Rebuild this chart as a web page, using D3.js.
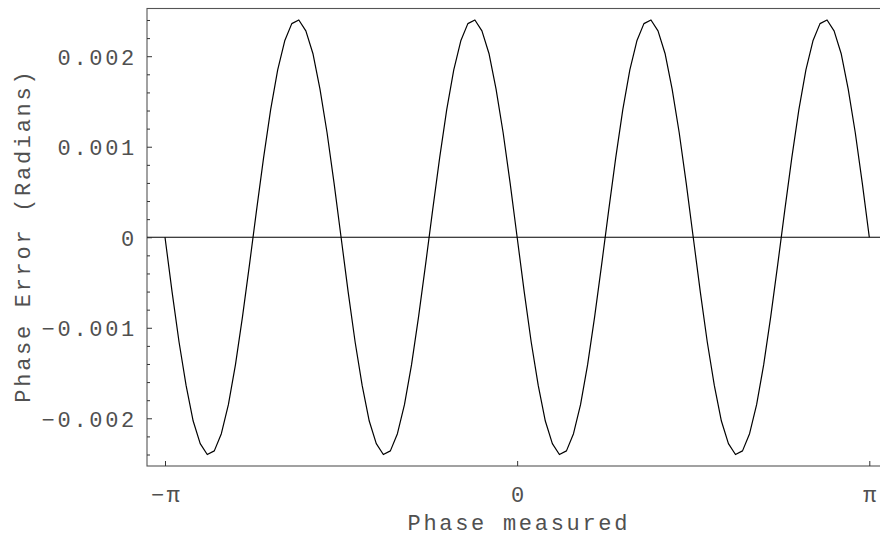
<!DOCTYPE html>
<html>
<head>
<meta charset="utf-8">
<script src="https://cdn.jsdelivr.net/npm/d3@7"></script>
<style>
  body { margin: 0; background: #fff; }
  svg text { font-family: "Liberation Mono", "DejaVu Sans Mono", monospace; fill: #505050; }
</style>
</head>
<body>
<svg id="chart" width="880" height="537"></svg>
<script>
// phase error, 101 samples evenly spaced over [-pi, pi]
var errorValues = [
    0, -0.00060, -0.00116, -0.00164, -0.00203, -0.00228, -0.00240, -0.00236, -0.00217, -0.00185, -0.00141, -0.00088, -0.00030,
    0.00030, 0.00088, 0.00141, 0.00185, 0.00217, 0.00236, 0.00240, 0.00228, 0.00203, 0.00164, 0.00116, 0.00060,
    0, -0.00060, -0.00116, -0.00164, -0.00203, -0.00228, -0.00240, -0.00236, -0.00217, -0.00185, -0.00141, -0.00088, -0.00030,
    0.00030, 0.00088, 0.00141, 0.00185, 0.00217, 0.00236, 0.00240, 0.00228, 0.00203, 0.00164, 0.00116, 0.00060,
    0, -0.00060, -0.00116, -0.00164, -0.00203, -0.00228, -0.00240, -0.00236, -0.00217, -0.00185, -0.00141, -0.00088, -0.00030,
    0.00030, 0.00088, 0.00141, 0.00185, 0.00217, 0.00236, 0.00240, 0.00228, 0.00203, 0.00164, 0.00116, 0.00060,
    0, -0.00060, -0.00116, -0.00164, -0.00203, -0.00228, -0.00240, -0.00236, -0.00217, -0.00185, -0.00141, -0.00088, -0.00030,
    0.00030, 0.00088, 0.00141, 0.00185, 0.00217, 0.00236, 0.00240, 0.00228, 0.00203, 0.00164, 0.00116, 0.00060,
    0
];
var phaseRange = [-Math.PI, Math.PI];

var xTickValues = [-Math.PI, 0, Math.PI];
var xTickLabels = ["\u2212\u03c0", "0", "\u03c0"];
var yTickValues = [-0.002, -0.001, 0, 0.001, 0.002];
var yTickLabels = ["\u22120.002", "\u22120.001", "0", "0.001", "0.002"];
var yMinorTicks = [-0.0024, -0.0022, -0.0018, -0.0016, -0.0014, -0.0012, -0.0008, -0.0006, -0.0004, -0.0002,
    0.0002, 0.0004, 0.0006, 0.0008, 0.0012, 0.0014, 0.0016, 0.0018, 0.0022, 0.0024];

var xLabel = "Phase measured";
var yLabel = "Phase Error (Radians)";

var svg = d3.select("#chart");
var frame = { left: 147, right: 882, top: 8.5, bottom: 466 };
var ls = 2.7; // letter spacing to get the wide courier look

var x = d3.scaleLinear().domain(phaseRange).range([165, 869.3]);
var y = d3.scaleLinear().domain([-0.002527, 0.002527]).range([frame.bottom, frame.top]);
// sample index -> phase
var idx = d3.scaleLinear().domain([0, errorValues.length - 1]).range(phaseRange);

// frame
svg.append("rect")
    .attr("x", frame.left)
    .attr("y", frame.top)
    .attr("width", frame.right - frame.left)
    .attr("height", frame.bottom - frame.top)
    .style("fill", "none")
    .style("stroke", "#555")
    .style("stroke-width", 1.1);

// zero line
svg.append("line")
    .attr("x1", frame.left).attr("x2", frame.right)
    .attr("y1", y(0)).attr("y2", y(0))
    .style("stroke", "#000")
    .style("stroke-width", 1.1);

// y axis, ticks inside the frame
var yAxis = d3.axisLeft(y)
    .tickValues(yTickValues)
    .tickFormat(function (d, i) { return yTickLabels[i]; })
    .tickSizeInner(-5)
    .tickSizeOuter(0)
    .tickPadding(10);
var gy = svg.append("g").attr("transform", "translate(" + frame.left + ",0)").call(yAxis);
gy.select(".domain").remove();
gy.selectAll("line").style("stroke", "#333");
gy.selectAll("text")
    .style("font-size", "22px")
    .style("letter-spacing", ls + "px")
    .attr("dy", "0.36em");

var yMinor = d3.axisLeft(y).tickValues(yMinorTicks).tickFormat("").tickSizeInner(-3).tickSizeOuter(0);
var gym = svg.append("g").attr("transform", "translate(" + frame.left + ",0)").call(yMinor);
gym.select(".domain").remove();
gym.selectAll("line").style("stroke", "#333");

// x axis
var xAxis = d3.axisBottom(x)
    .tickValues(xTickValues)
    .tickFormat(function (d, i) { return xTickLabels[i]; })
    .tickSizeInner(-5)
    .tickSizeOuter(0)
    .tickPadding(20);
var gx = svg.append("g").attr("transform", "translate(0," + frame.bottom + ")").call(xAxis);
gx.select(".domain").remove();
gx.selectAll("line").style("stroke", "#333");
gx.selectAll("text")
    .style("font-size", "22px")
    .style("letter-spacing", ls + "px")
    .attr("dx", (ls / 2) + "px");

// curve
var line = d3.line()
    .x(function (d, i) { return x(idx(i)); })
    .y(function (d) { return y(d); });

svg.append("path")
    .datum(errorValues)
    .attr("d", line)
    .style("fill", "none")
    .style("stroke", "#000")
    .style("stroke-width", 1.2)
    .style("stroke-linejoin", "round");

// axis titles
svg.append("text")
    .attr("x", 517.5 + ls / 2)
    .attr("y", 530)
    .attr("text-anchor", "middle")
    .style("font-size", "22px")
    .style("letter-spacing", ls + "px")
    .text(xLabel);

svg.append("text")
    .attr("transform", "translate(30,237) rotate(-90)")
    .attr("dx", (ls / 2) + "px")
    .attr("text-anchor", "middle")
    .style("font-size", "22px")
    .style("letter-spacing", ls + "px")
    .text(yLabel);
</script>
</body>
</html>
